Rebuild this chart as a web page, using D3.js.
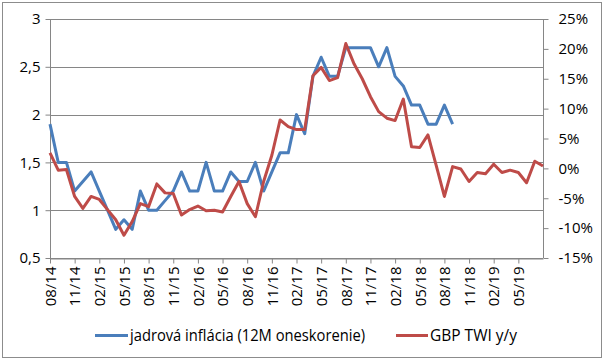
<!DOCTYPE html>
<html><head><meta charset="utf-8">
<script src="https://cdn.jsdelivr.net/npm/d3@7"></script>
<style>body{margin:0;background:#fff}svg{display:block}text{font-family:"Open Sans",sans-serif;fill:#000}</style>
</head><body><svg id="c" width="607" height="363"></svg>
<script>
const categories = ["08/14","09/14","10/14","11/14","12/14","01/15","02/15","03/15","04/15","05/15","06/15","07/15",
"08/15","09/15","10/15","11/15","12/15","01/16","02/16","03/16","04/16","05/16","06/16","07/16",
"08/16","09/16","10/16","11/16","12/16","01/17","02/17","03/17","04/17","05/17","06/17","07/17",
"08/17","09/17","10/17","11/17","12/17","01/18","02/18","03/18","04/18","05/18","06/18","07/18",
"08/18","09/18","10/18","11/18","12/18","01/19","02/19","03/19","04/19","05/19","06/19","07/19","08/19"];
const coreInflation = [1.9,1.5,1.5,1.2,1.3,1.4,1.2,1.0,0.8,0.9,0.8,1.2,
1.0,1.0,1.1,1.2,1.4,1.2,1.2,1.5,1.2,1.2,1.4,1.3,
1.3,1.5,1.2,1.4,1.6,1.6,2.0,1.8,2.4,2.6,2.4,2.4,
2.7,2.7,2.7,2.7,2.5,2.7,2.4,2.3,2.1,2.1,1.9,1.9,
2.1,1.9];
const gbpTwi = [2.6,-0.3,-0.2,-4.7,-6.7,-4.7,-5.2,-6.9,-8.6,-11.2,-8.9,-5.9,
-6.4,-2.6,-4.1,-4.2,-7.8,-6.9,-6.3,-7.1,-7.0,-7.3,-4.7,-2.2,
-5.9,-8.1,-2.2,2.2,8.1,7.0,6.5,6.5,15.5,16.9,14.7,15.2,
20.9,17.5,15.0,12.0,9.5,8.4,8.0,11.6,3.6,3.5,5.6,0.5,
-4.7,0.3,-0.1,-2.2,-0.7,-0.9,0.7,-0.7,-0.3,-0.7,-2.4,1.2,0.4];
const tickLabels = ["08/14","11/14","02/15","05/15","08/15","11/15","02/16","05/16","08/16","11/16",
"02/17","05/17","08/17","11/17","02/18","05/18","08/18","11/18","02/19","05/19"];
const leftTicks = [0.5,1,1.5,2,2.5,3];
const rightTicks = [-15,-10,-5,0,5,10,15,20,25];
const seriesNames = ["jadrová inflácia (12M oneskorenie)","GBP TWI y/y"];

const svg = d3.select("#c");
const L=50, R=543, T=19, B=258;
const x = d3.scalePoint().domain(categories).range([L,R]);
const yL = d3.scaleLinear().domain([0.5,3]).range([B,T]);
const yR = d3.scaleLinear().domain([-15,25]).range([B,T]);
const blue="#4A7EBB", red="#BE4B48", grid="#868686";

svg.append("rect").attr("x",2.5).attr("y",2.5).attr("width",599).attr("height",355)
  .attr("fill","#fff").attr("stroke","#8c8c8c");

// gridlines
svg.append("g").selectAll("line").data(leftTicks).join("line")
  .attr("x1",L).attr("x2",R).attr("y1",d=>Math.round(yL(d))+0.5).attr("y2",d=>Math.round(yL(d))+0.5)
  .attr("stroke",grid);

// left axis
const gl = svg.append("g").attr("transform",`translate(${L+0.5},0)`)
  .call(d3.axisLeft(yL).tickValues(leftTicks).tickSize(5).tickPadding(5).tickFormat(d=>d3.format("")(d).replace(".",",")));
gl.select(".domain").attr("stroke",grid).attr("d",`M-0,${T}V${B}`);
gl.selectAll(".tick line").attr("stroke",grid);
gl.selectAll(".tick text").attr("font-size",15).attr("font-family","Open Sans").attr("fill","#000");

// right axis
const gr = svg.append("g").attr("transform",`translate(${R+0.5},0)`)
  .call(d3.axisRight(yR).tickValues(rightTicks).tickSize(5).tickPadding(10).tickFormat(d=>d+"%"));
gr.select(".domain").attr("stroke",grid).attr("d",`M0,${T}V${B}`);
gr.selectAll(".tick line").attr("stroke",grid);
gr.selectAll(".tick text").attr("font-size",15).attr("font-family","Open Sans").attr("fill","#000");

// bottom axis
const gb = svg.append("g").attr("transform",`translate(0,${B+0.5})`)
  .call(d3.axisBottom(x).tickValues(tickLabels).tickSize(5).tickSizeOuter(0));
gb.select(".domain").attr("stroke",grid);
gb.selectAll(".tick line").attr("stroke",grid);
gb.selectAll(".tick text").attr("font-size",15).attr("font-family","Open Sans").attr("fill","#000")
  .attr("text-anchor","end").attr("transform","rotate(-90)").attr("x",-8).attr("y",0).attr("dy","0.35em");

// lines
const lineL = d3.line().x((d,i)=>x(categories[i])).y(d=>yL(d));
const lineR = d3.line().x((d,i)=>x(categories[i])).y(d=>yR(d));
svg.append("path").datum(coreInflation).attr("d",lineL).attr("fill","none")
  .attr("stroke",blue).attr("stroke-width",3).attr("stroke-linejoin","round");
svg.append("path").datum(gbpTwi).attr("d",lineR).attr("fill","none")
  .attr("stroke",red).attr("stroke-width",3).attr("stroke-linejoin","round");

// legend
const leg = [{name:seriesNames[0],color:blue,x1:95,x2:128,tx:130,tl:235},
             {name:seriesNames[1],color:red,x1:396,x2:428,tx:430,tl:87}];
const lg = svg.append("g");
leg.forEach(d=>{
  lg.append("line").attr("x1",d.x1).attr("x2",d.x2).attr("y1",335.5).attr("y2",335.5)
    .attr("stroke",d.color).attr("stroke-width",3);
  lg.append("text").attr("x",d.tx).attr("y",341).attr("font-size",16)
    .attr("textLength",d.tl).attr("lengthAdjust","spacingAndGlyphs").text(d.name);
});
</script></body></html>
